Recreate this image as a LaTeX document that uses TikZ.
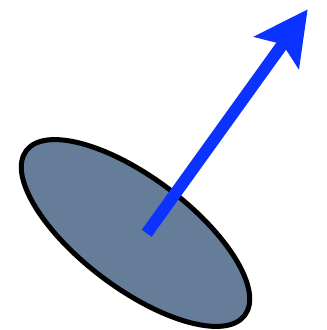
\documentclass[tikz,border=0pt]{standalone}
\usetikzlibrary{shapes.geometric,arrows.meta}
\definecolor{discfill}{RGB}{101,125,153}
\definecolor{vecblue}{RGB}{12,50,255}
\tikzset{
  disc/.style={ellipse, draw=black, line width=0.05cm, fill=discfill,
    minimum width=2.734cm, minimum height=1.104cm, inner sep=0pt, outer sep=0pt, rotate=-37},
  vec/.style={draw=vecblue, line width=0.12cm, line cap=butt,
    -{Stealth[length=0.53cm, width=0.54cm, inset=0.1cm]}}
}
\begin{document}
\begin{tikzpicture}[x=0.01cm,y=0.01cm]
  \useasboundingbox (0,0) rectangle (327,330);
  \node[disc] (plate) at (135.5,97) {};
  \coordinate (base) at (146.7,96.7);
  \coordinate (tip) at (307.7,320.7);
  \draw[vec] (base) -- (tip);
\end{tikzpicture}
\end{document}
